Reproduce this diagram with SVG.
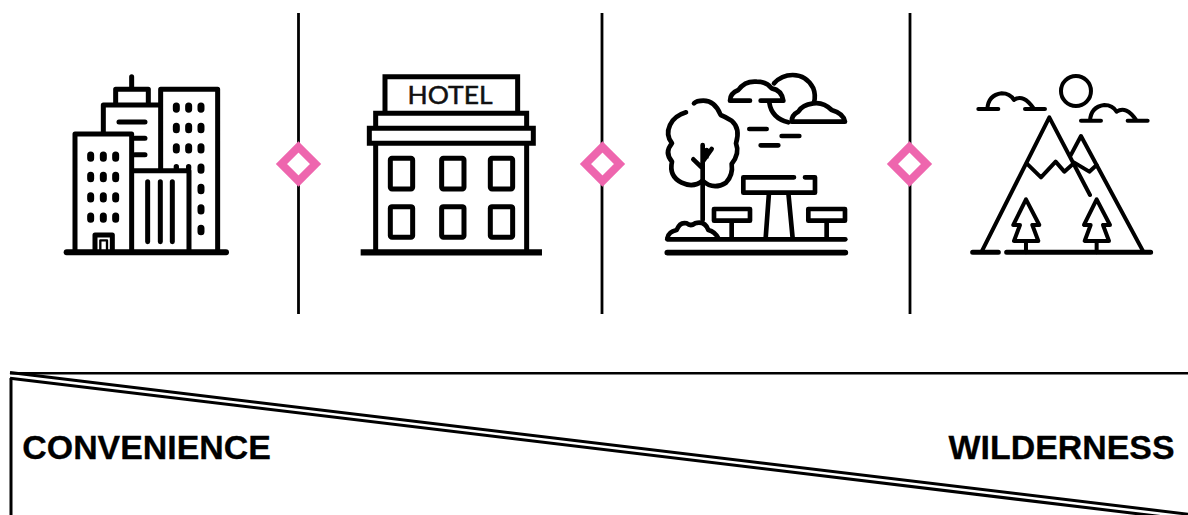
<svg xmlns="http://www.w3.org/2000/svg" width="1188" height="515" viewBox="0 0 1188 515">
<style>
.i{fill:none;stroke:#000;stroke-linecap:round;stroke-linejoin:round}
.b{stroke-width:15}
.p{stroke-width:14}
.m{stroke-width:12}
.butt{stroke-linecap:butt;stroke-linejoin:miter}
.d{stroke-width:21}
.sep{stroke:#000;stroke-width:2.8}
.dia{fill:#fff;stroke:#ee66ae;stroke-width:8}
.rule{fill:none;stroke:#000;stroke-width:2.4}
.diag{fill:none;stroke:#000;stroke-width:3}
.lab{font-family:"Liberation Sans",Arial,sans-serif;font-weight:700;font-size:33.9px;fill:#000;stroke:#000;stroke-width:.3}
</style>
<defs>
<g id="mc"><path d="M295 147H355M322 147Q325 105 365 100Q390 100 402 120Q430 100 462 147M435 147H495"/></g>
<path id="mt" d="M438 418L400 495H420L402 543H475L457 495H478ZM438 543V577"/>
</defs>
<g id="connectors">
<line class="sep" x1="298.5" y1="13" x2="298.5" y2="314"/>
<line class="sep" x1="602" y1="13" x2="602" y2="314"/>
<line class="sep" x1="910" y1="13" x2="910" y2="314"/>
</g>
<g id="diamond-1"><path class="dia" d="M298.5 147L315.5 164L298.5 181L281.5 164Z"/></g>
<g id="diamond-2"><path class="dia" d="M602.5 147L619.5 164L602.5 181L585.5 164Z"/></g>
<g id="diamond-3"><path class="dia" d="M909.5 147L926.5 164L909.5 181L892.5 164Z"/></g>

<g id="city" transform="translate(50 60) scale(.3333)">
<g class="i b">
<path d="M75 577V222H245V577M245 332H417V577M332 332V88H503V577M160 222V135H330M197 135V88H295V135M245 50V88M207 186H285M255 235H285M255 284H285"/>
<path d="M293 365V545M331 365V545M367 365V545M135 577V525H187V577"/>
<path style="stroke-width:18" d="M50 577H528"/>
<path style="stroke-width:7" d="M151 570V541H171V570"/>
</g>
<g class="i d">
<path d="M122 285V295M160 285V295M197 285V295M122 346V356M160 346V356M197 346V356M122 407V417M160 407V417M197 407V417M122 468V478M160 468V478M197 468V478"/>
<path d="M379 138V148M416 138V148M453 138V148M379 199V209M416 199V209M453 199V209M379 260V270M416 260V270M453 260V270M453 321V331M453 382V392M453 443V453M453 505V515"/>
<path style="stroke-width:16" d="M379 320V324M416 320V324"/>
</g>
</g>

<g id="hotel">
<g transform="translate(340 60) scale(.3333)">
<g class="i b butt">
<path d="M135 157V50H533V157M107 205V160H560V205M88 250V205H580V250ZM107 250V577M560 250V577"/>
<path style="stroke-width:19" d="M62 577H606"/>
<rect x="151" y="295" width="67" height="92" rx="5"/><rect x="305" y="295" width="67" height="92" rx="5"/><rect x="451" y="295" width="67" height="92" rx="5"/>
<rect x="151" y="440" width="67" height="92" rx="5"/><rect x="305" y="440" width="67" height="92" rx="5"/><rect x="451" y="440" width="67" height="92" rx="5"/>
</g>
</g>
<text x="450" y="104" text-anchor="middle" font-family="Lato,sans-serif" font-size="25.5" fill="#111" stroke="#111" stroke-width=".5" textLength="85" lengthAdjust="spacingAndGlyphs">HOTEL</text>
</g>

<g id="picnic" transform="translate(650 60) scale(.3333)">
<g class="i p">
<path d="M108 157Q72 168 60 195Q46 225 66 250Q42 278 66 305Q56 348 95 368Q130 385 158 362Q190 392 228 368Q250 345 245 312Q270 280 258 250Q272 205 245 182Q225 170 212 165Q195 122 160 122Q140 122 132 130"/>
<path d="M158 255V480M158 325L130 298M158 305L185 267M170 290L170 270"/>
<path d="M52 535Q55 515 80 510Q90 485 110 490Q122 500 135 490Q165 482 175 510Q195 515 205 535"/>
<path d="M432 352H280V398H495V352H465M357 398L347 535M415 398L428 535"/>
<path d="M192 447H300V482H192ZM245 482V535M475 447H585V482H475ZM530 482V535"/>
<path d="M300 122H240Q240 100 265 90Q285 62 320 65Q350 65 365 85Q395 90 400 122H332"/>
<path d="M372 70Q395 45 428 45Q470 45 490 85Q498 105 492 128M358 128Q365 175 415 187"/>
<path d="M425 185H585Q580 160 545 150Q520 125 490 130Q455 135 445 155Q425 165 425 185Z"/>
<path d="M298 207H350M395 228H448M332 256H385"/>
<path d="M52 538H586"/>
<path style="stroke-width:17" d="M52 578H586"/>
</g>
</g>

<g id="mountain" transform="translate(880 60) scale(.3333)">
<g class="i m">
<path d="M305 575L508 172L630 405M570 290L603 228L790 575"/>
<path style="stroke-width:15" d="M278 577H355M380 577H812"/>
<path d="M440 310L483 352L527 305L553 335L583 308L628 335L650 315"/>
<circle cx="588" cy="93" r="45"/>
<use href="#mc"/><use href="#mc" x="308" y="35"/>
<use href="#mt"/><use href="#mt" x="212"/>
</g>
</g>

<g id="scale">
<path class="rule" d="M10 373.3H1188"/>
<path class="diag" d="M11 378V515"/>
<path class="diag" d="M10 372.6L1188 514.2M10 378.2L1188 519.8"/>
<text class="lab" x="22.3" y="459">CONVENIENCE</text>
<text class="lab" x="1174.5" y="459" text-anchor="end">WILDERNESS</text>
</g>
</svg>
